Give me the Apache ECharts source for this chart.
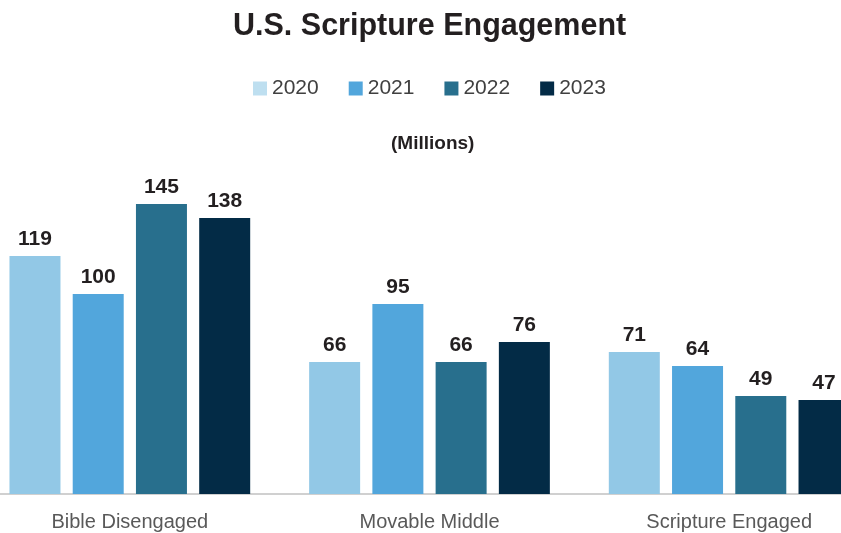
<!DOCTYPE html>
<html>
<head>
<meta charset="utf-8">
<script src="https://cdn.jsdelivr.net/npm/echarts@6/dist/echarts.min.js"></script>
<style>
  html, body { margin: 0; padding: 0; background: #fff; overflow: hidden; }
  #wrap { width: 841px; height: 533px; overflow: hidden; position: relative; }
  /* the plot runs past the right edge, so the canvas is wider than the page */
  #chart { width: 940px; height: 533px; position: absolute; left: -30px; top: 0; }
</style>
</head>
<body>
<div id="wrap"><div id="chart"></div></div>
<script>
// Scripture engagement segments, in millions of U.S. adults
const categories = ['Bible Disengaged', 'Movable Middle', 'Scripture Engaged'];
const years = ['2020', '2021', '2022', '2023'];
const values2020 = [119, 66, 71];
const values2021 = [100, 95, 64];
const values2022 = [145, 66, 49];
const values2023 = [138, 76, 47];

const seriesValues = [values2020, values2021, values2022, values2023];
const barColors = ['#92C8E6', '#52A6DC', '#286F8D', '#032B46'];
const legendColors = ['#BEDFF0', '#52A6DC', '#286F8D', '#032B46'];

const FONT = '"Liberation Sans", Arial, sans-serif';

const chart = echarts.init(document.getElementById('chart'), null, { renderer: 'canvas' });

chart.setOption({
  animation: false,
  title: [
    {
      text: 'U.S. Scripture Engagement',
      left: 258,
      top: 6,
      textStyle: { fontFamily: FONT, fontSize: 30.5, fontWeight: 'bold', color: '#231F20' }
    },
    {
      text: '(Millions)',
      left: 416,
      top: 129,
      textStyle: { fontFamily: FONT, fontSize: 19, fontWeight: 'bold', color: '#231F20' }
    }
  ],
  legend: {
    top: 73,
    left: 278,
    itemWidth: 14,
    itemHeight: 14,
    itemGap: 30,
    icon: 'rect',
    textStyle: { fontFamily: FONT, fontSize: 21, color: '#404040' },
    data: years.map((y, i) => ({ name: y, itemStyle: { color: legendColors[i] } }))
  },
  grid: { left: 10, right: 31, top: 194, bottom: 39, containLabel: false },
  xAxis: {
    type: 'category',
    data: categories,
    axisTick: { show: false },
    axisLine: { lineStyle: { color: '#D0D0D0', width: 2 } },
    axisLabel: { fontFamily: FONT, fontSize: 20, color: '#595959', margin: 18 }
  },
  yAxis: {
    type: 'value',
    min: 0,
    max: 150,
    show: false,
    splitLine: { show: false }
  },
  series: years.map((y, i) => ({
    name: y,
    type: 'bar',
    data: seriesValues[i],
    barWidth: 51,
    barGap: '24%',
    itemStyle: { color: barColors[i] },
    label: {
      show: true,
      position: 'top',
      distance: 6,
      fontFamily: FONT,
      fontSize: 21,
      fontWeight: 'bold',
      color: '#231F20'
    }
  }))
});
</script>
</body>
</html>
